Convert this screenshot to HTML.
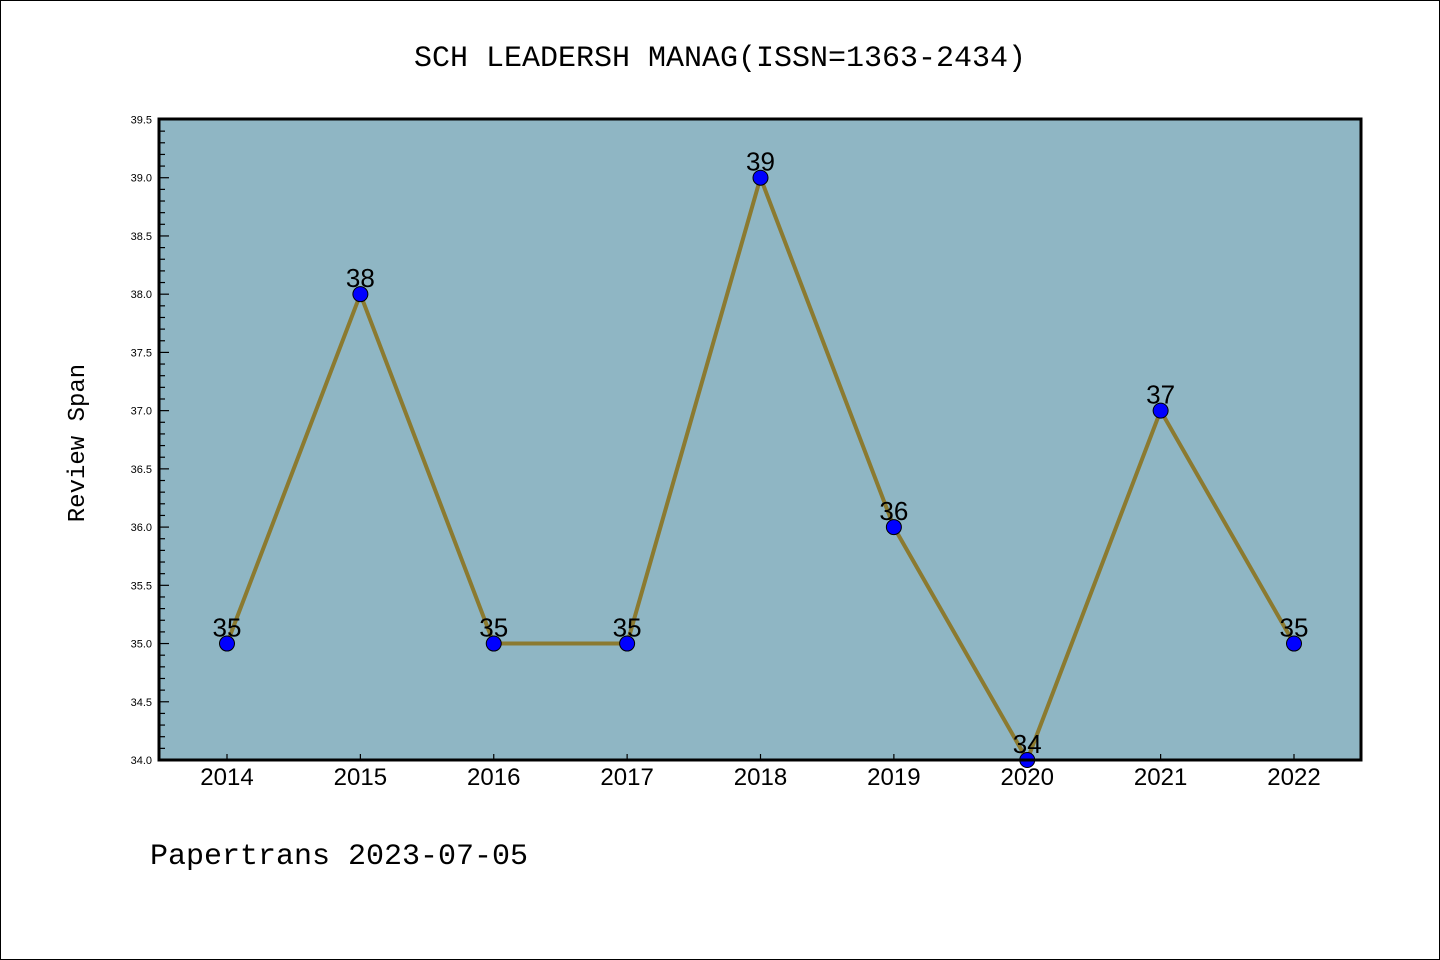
<!DOCTYPE html>
<html><head><meta charset="utf-8"><style>
html,body{margin:0;padding:0;background:#fff}
svg{display:block}
text{font-family:"Liberation Mono","DejaVu Sans Mono",monospace}
.sans{font-family:"Liberation Sans","DejaVu Sans",sans-serif}
</style></head><body>
<svg id="chart" width="1440" height="960" xmlns="http://www.w3.org/2000/svg">
<rect x="0.5" y="0.5" width="1439" height="959" fill="#fff" stroke="#000"/>
<text x="720" y="66" text-anchor="middle" font-size="30">SCH LEADERSH MANAG(ISSN=1363-2434)</text>
<rect x="159" y="119" width="1202" height="641" fill="#8fb6c4"/>
<g id="yaxis"></g>
<g id="xaxis"></g>
<g id="series"></g>
<rect x="159" y="119" width="1202" height="641" fill="none" stroke="#000" stroke-width="3"/>
<text x="0" y="0" transform="translate(84,443) rotate(-90)" text-anchor="middle" font-size="24">Review Span</text>
<text x="150" y="864" font-size="30">Papertrans 2023-07-05</text>
</svg>
<script>
const years = ["2014","2015","2016","2017","2018","2019","2020","2021","2022"];
const values = [35,38,35,35,39,36,34,37,35];
const yTicks = ["34.0","34.5","35.0","35.5","36.0","36.5","37.0","37.5","38.0","38.5","39.0","39.5"];
const ns="http://www.w3.org/2000/svg";
const yMin=34, yMax=39.5, plotTop=119.5, plotBot=760;
function yS(v){return plotBot-(v-yMin)/(yMax-yMin)*(plotBot-plotTop);}
function xS(i){return 227+i*(1294-227)/(years.length-1);}
function mk(t,a,p){const e=document.createElementNS(ns,t);for(const k in a)e.setAttribute(k,a[k]);p.appendChild(e);return e;}
const ya=document.getElementById('yaxis');
for(let k=0;k<=55;k++){
  const v=yMin+k*0.1;
  const major=(k%5===0);
  const l=mk('line',{x1:159,x2:159+(major?10:6),y1:yS(v),y2:yS(v),stroke:'#000','stroke-width':1.2},ya);
  
  
}
yTicks.forEach(t=>{
  const e=mk('text',{x:152,y:yS(parseFloat(t))+4,'text-anchor':'end','font-size':11,'class':'sans'},ya);
  e.textContent=t;
  
  
});
const xa=document.getElementById('xaxis');
years.forEach((y,i)=>{
  const l=mk('line',{x1:xS(i),x2:xS(i),y1:plotBot,y2:plotBot-6,stroke:'#000','stroke-width':1.2},xa);
  
  
  const e=mk('text',{x:xS(i),y:785,'text-anchor':'middle','font-size':24,'class':'sans'},xa);
  e.textContent=y;
  
  
});
const s=document.getElementById('series');
const pl=mk('polyline',{points:values.map((v,i)=>xS(i)+','+yS(v)).join(' '),fill:'none',stroke:'#8b7a30','stroke-width':4},s);


values.forEach((v,i)=>{
  const c=mk('circle',{cx:xS(i),cy:yS(v),r:7.5,fill:'#0000ff',stroke:'#000','stroke-width':1},s);
  
  
  const t=mk('text',{x:xS(i),y:yS(v)-7,'text-anchor':'middle','font-size':26,fill:'#000','class':'sans'},s);
  t.textContent=v;
  
  
});
</script>
</body></html>
